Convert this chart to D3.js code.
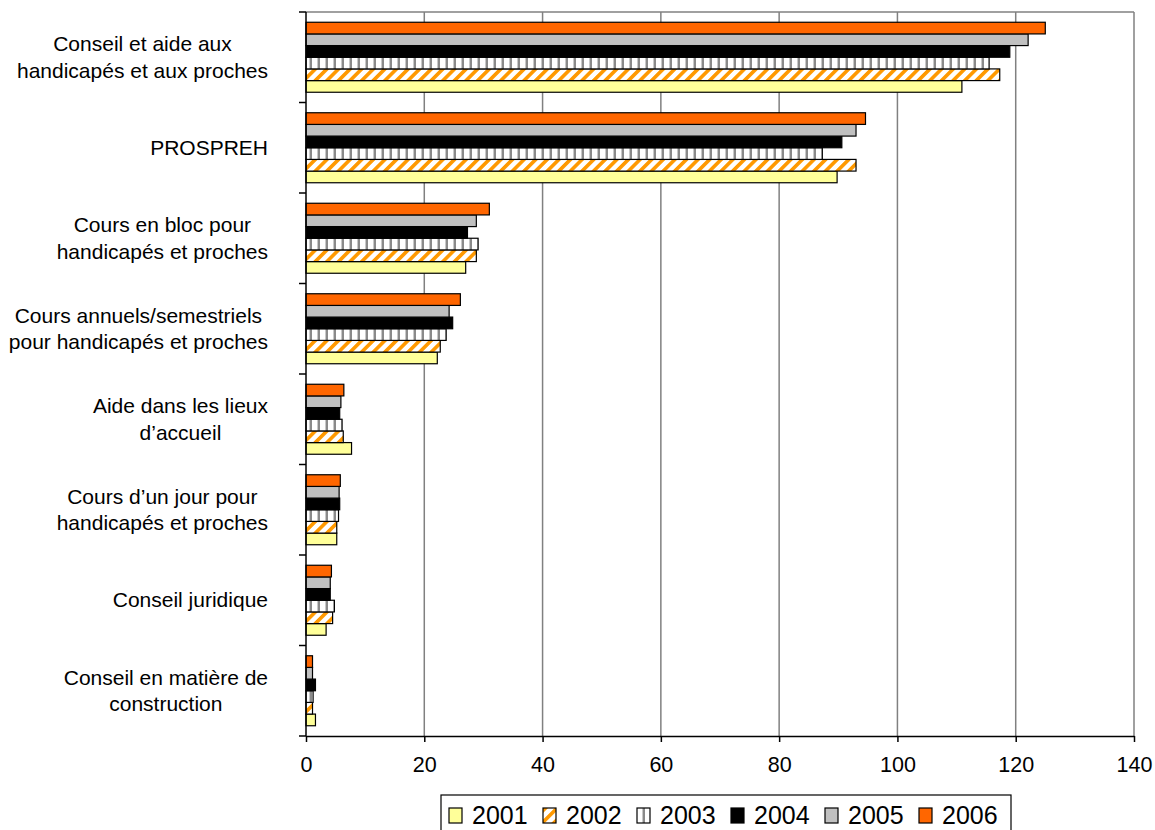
<!DOCTYPE html>
<html>
<head>
<meta charset="utf-8">
<script src="https://cdn.jsdelivr.net/npm/d3@7"></script>
<style>
  body { margin: 0; background: #fff; }
  svg { display: block; font-family: "Liberation Sans", Arial, sans-serif; }
</style>
</head>
<body>
<div id="chart"></div>
<script>
// categories, top to bottom (labels split in lines)
var categories = [
  "Conseil et aide aux|handicapés et aux proches",
  "PROSPREH",
  "Cours en bloc pour|handicapés et proches",
  "Cours annuels/semestriels|pour handicapés et proches",
  "Aide dans les lieux|d’accueil",
  "Cours d’un jour pour|handicapés et proches",
  "Conseil juridique",
  "Conseil en matière de|construction"
];

var years = ["2001", "2002", "2003", "2004", "2005", "2006"];

// one array per year, same order as categories
var v2001 = [110.9, 89.8, 27.0, 22.2, 7.7, 5.2, 3.4, 1.6];
var v2002 = [117.3, 93.0, 28.8, 22.7, 6.3, 5.2, 4.5, 1.1];
var v2003 = [115.5, 87.3, 29.1, 23.7, 6.1, 5.5, 4.8, 1.2];
var v2004 = [119.0, 90.6, 27.3, 24.8, 5.7, 5.7, 4.1, 1.6];
var v2005 = [122.1, 93.0, 28.8, 24.2, 5.9, 5.6, 4.1, 1.1];
var v2006 = [125.0, 94.6, 31.0, 26.1, 6.4, 5.8, 4.3, 1.1];

var xTicks = [0, 20, 40, 60, 80, 100, 120, 140];

var seriesValues = [v2001, v2002, v2003, v2004, v2005, v2006];

function draw() {
  var W = 1155, H = 830;
  var plotLeft = 306, plotRight = 1134, plotTop = 12, plotBottom = 736;

  var svg = d3.select("#chart").append("svg")
    .attr("width", W).attr("height", H);

  // patterns
  var defs = svg.append("defs");
  var hatch = defs.append("pattern")
    .attr("id", "hatch02")
    .attr("patternUnits", "userSpaceOnUse")
    .attr("width", 8.2).attr("height", 8.2)
    .attr("patternTransform", "rotate(45)");
  hatch.append("rect").attr("width", 8.2).attr("height", 8.2).attr("fill", "#fff");
  hatch.append("rect").attr("width", 3.6).attr("height", 8.2).attr("fill", "#FF9900");

  var vstripe = defs.append("pattern")
    .attr("id", "stripe03")
    .attr("patternUnits", "userSpaceOnUse")
    .attr("width", 8).attr("height", 8);
  vstripe.append("rect").attr("width", 8).attr("height", 8).attr("fill", "#fff");
  vstripe.append("rect").attr("x", 5).attr("width", 1).attr("height", 8).attr("fill", "#c8c8c8");
  vstripe.append("rect").attr("x", 6).attr("width", 2).attr("height", 8).attr("fill", "#8a8a8a");

  var fills = {
    "2001": "#FFFF99",
    "2002": "url(#hatch02)",
    "2003": "url(#stripe03)",
    "2004": "#000000",
    "2005": "#C0C0C0",
    "2006": "#FF6600"
  };

  var x = d3.scaleLinear().domain([0, 140]).range([plotLeft, plotRight]);

  var y = d3.scaleBand().domain(categories).range([plotTop, plotBottom])
    .paddingInner(0.2265).paddingOuter(0.11325);

  // 2006 on top, 2001 at the bottom of each group
  var ySub = d3.scaleBand().domain(years.slice().reverse()).range([0, y.bandwidth()]);

  var boundary = d3.scaleLinear().domain([0, categories.length]).range([plotTop, plotBottom]);

  // gridlines
  svg.append("g").selectAll("line")
    .data(xTicks.slice(1))
    .enter().append("line")
    .attr("x1", d => x(d)).attr("x2", d => x(d))
    .attr("y1", plotTop).attr("y2", plotBottom)
    .attr("stroke", "#808080").attr("stroke-width", 1.5);

  // top border
  svg.append("line")
    .attr("x1", plotLeft).attr("x2", plotRight).attr("y1", plotTop).attr("y2", plotTop)
    .attr("stroke", "#808080").attr("stroke-width", 1.5);

  // bars
  var groups = svg.append("g").selectAll("g")
    .data(categories)
    .enter().append("g")
    .attr("transform", d => `translate(0,${y(d)})`);

  groups.selectAll("rect")
    .data((c, i) => years.map((yr, k) => ({year: yr, value: seriesValues[k][i]})))
    .enter().append("rect")
    .attr("x", x(0))
    .attr("y", d => ySub(d.year))
    .attr("width", d => x(d.value) - x(0))
    .attr("height", ySub.bandwidth())
    .attr("fill", d => fills[d.year])
    .attr("stroke", "#000")
    .attr("stroke-width", 1.2);

  // x axis
  var xAxis = d3.axisBottom(x).tickValues(xTicks).tickSize(6).tickSizeOuter(0).tickPadding(15);
  var gx = svg.append("g")
    .attr("transform", `translate(0,${plotBottom})`)
    .call(xAxis);
  gx.attr("font-size", null).attr("font-family", null);
  gx.select(".domain").attr("stroke", "#000").attr("stroke-width", 1.5);
  gx.selectAll(".tick line").attr("stroke", "#000").attr("stroke-width", 1.5);
  gx.selectAll(".tick text")
    .attr("fill", "#000")
    .style("font-size", "21.5px");

  // y axis line + ticks at group boundaries
  svg.append("line")
    .attr("x1", plotLeft).attr("x2", plotLeft).attr("y1", plotTop).attr("y2", plotBottom)
    .attr("stroke", "#000").attr("stroke-width", 1.5);
  svg.append("g").selectAll("line")
    .data(d3.range(categories.length + 1))
    .enter().append("line")
    .attr("x1", plotLeft - 7).attr("x2", plotLeft)
    .attr("y1", d => boundary(d)).attr("y2", d => boundary(d))
    .attr("stroke", "#000").attr("stroke-width", 1.5);

  // category labels: lines centred, block right-aligned at 268
  var labelRight = 268, lineH = 26.5;
  var labels = svg.append("g").selectAll("text")
    .data(categories)
    .enter().append("text")
    .attr("text-anchor", "middle")
    .style("font-size", "21px")
    .attr("fill", "#000");

  labels.each(function(c) {
    var t = d3.select(this);
    var lines = c.split("|");
    var cy = y(c) + y.bandwidth() / 2;
    var first = cy + 7 - (lines.length - 1) * lineH / 2;
    var spans = lines.map((ln, j) => t.append("tspan")
      .attr("y", first + j * lineH)
      .text(ln));
    var maxW = d3.max(spans, s => s.node().getComputedTextLength());
    spans.forEach(s => s.attr("x", labelRight - maxW / 2));
  });

  // legend
  var legend = svg.append("g");
  legend.append("rect")
    .attr("x", 441).attr("y", 795).attr("width", 570).attr("height", 50)
    .attr("fill", "#fff").attr("stroke", "#000").attr("stroke-width", 1.2);

  var items = legend.selectAll("g.item")
    .data(years)
    .enter().append("g")
    .attr("class", "item")
    .attr("transform", (d, i) => `translate(${449 + i * 94},808)`);

  items.append("rect")
    .attr("width", 13).attr("height", 15)
    .attr("fill", d => fills[d])
    .attr("stroke", "#000").attr("stroke-width", 1.2);

  items.append("text")
    .attr("x", 23).attr("y", 15.5)
    .style("font-size", "25px")
    .attr("fill", "#000")
    .text(d => d);
}
draw();
</script>
</body>
</html>
